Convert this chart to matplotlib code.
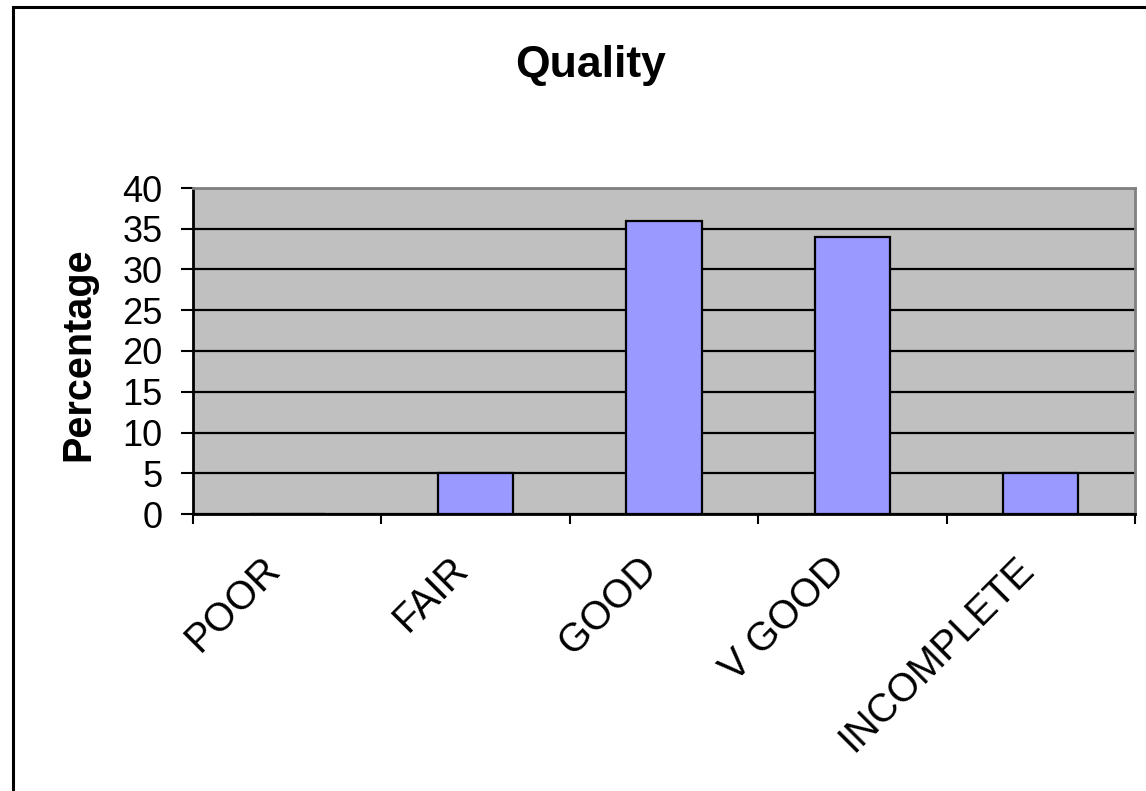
import matplotlib
matplotlib.use("Agg")
import matplotlib.pyplot as plt
from matplotlib.lines import Line2D
from matplotlib.transforms import ScaledTranslation
import numpy as np

categories = ["POOR", "FAIR", "GOOD", "V GOOD", "INCOMPLETE"]
percentages = [0, 5, 36, 34, 5]
y_ticks = [0, 5, 10, 15, 20, 25, 30, 35, 40]

plt.rcParams["font.family"] = ["Liberation Sans", "DejaVu Sans"]

W, H = 1146, 791
fig = plt.figure(figsize=(W / 100, H / 100), dpi=100)
ax = fig.add_axes([193 / W, 1 - 514 / H, (1135 - 193) / W, (514 - 188) / H])

ax.set_facecolor("#C0C0C0")
x = np.arange(len(categories))
ax.bar(x, percentages, width=0.4, color="#9999FF", edgecolor="black",
       linewidth=1.6, zorder=3)

ax.set_xlim(-0.5, len(categories) - 0.5)
ax.set_ylim(0, 40)
ax.set_yticks(y_ticks)
ax.yaxis.grid(True, color="black", linewidth=1.6, zorder=1)
ax.set_axisbelow(True)
ax.tick_params(axis="y", labelsize=26, length=9, width=1.5, direction="out", pad=13)

# category boundaries as major ticks, labels on the minor ones
ax.set_xticks(np.arange(len(categories) + 1) - 0.5)
ax.set_xticklabels([])
ax.tick_params(axis="x", which="major", length=7.5, width=1.5, direction="out")
ax.set_xticks(x, minor=True)
ax.set_xticklabels(categories, minor=True, rotation=45, ha="right",
                   va="center", rotation_mode="anchor", fontsize=28.5)
ax.tick_params(axis="x", which="minor", length=0, pad=28)
shift = ScaledTranslation(-0.13, -0.10, fig.dpi_scale_trans)
for lab in ax.get_xticklabels(minor=True):
    lab.set_transform(lab.get_transform() + shift)

for s in ["left", "bottom"]:
    ax.spines[s].set_color("black")
    ax.spines[s].set_linewidth(2)
for s in ["top", "right"]:
    ax.spines[s].set_color("#808080")
    ax.spines[s].set_linewidth(2)

ax.set_ylabel("Percentage", fontsize=28.5, fontweight="bold")
ax.yaxis.set_label_coords(-0.102, 0.49)
fig.text(591 / W, 1 - 65 / H, "Quality", fontsize=32, fontweight="bold",
         ha="center", va="center")

# outer chart frame (right and bottom sides lie outside the picture)
fig.add_artist(Line2D([13 / W, 13 / W], [0, 1 - 7 / H], color="black",
                      linewidth=2.2, transform=fig.transFigure))
fig.add_artist(Line2D([13 / W, 1], [1 - 7 / H, 1 - 7 / H], color="black",
                      linewidth=2.2, transform=fig.transFigure))

fig.savefig("out.png", dpi=100)
